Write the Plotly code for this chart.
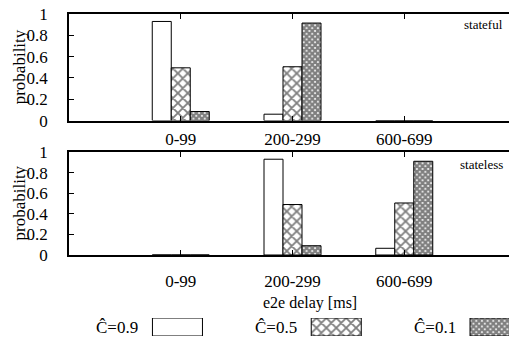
import plotly.graph_objects as go

categories = ["0-99", "200-299", "600-699"]
series_names = ["Ĉ=0.9", "Ĉ=0.5", "Ĉ=0.1"]
stateful_c09 = [0.93, 0.06, 0.0]
stateful_c05 = [0.495, 0.505, 0.0]
stateful_c01 = [0.085, 0.915, 0.0]
stateless_c09 = [0.0, 0.93, 0.065]
stateless_c05 = [0.0, 0.49, 0.505]
stateless_c01 = [0.0, 0.09, 0.91]
yticks = [0, 0.2, 0.4, 0.6, 0.8, 1]

FONT = "Liberation Serif"
patterns = [
    dict(shape="", bgcolor="white"),
    dict(shape="x", size=7, solidity=0.45, fgcolor="black", bgcolor="white", fillmode="overlay"),
    dict(shape="x", size=4, solidity=0.8, fgcolor="black", bgcolor="white", fillmode="overlay"),
]

fig = go.Figure()
panels = [
    ("x", "y", [stateful_c09, stateful_c05, stateful_c01]),
    ("x2", "y2", [stateless_c09, stateless_c05, stateless_c01]),
]
for xa, ya, vals in panels:
    for name, v, pat in zip(series_names, vals, patterns):
        fig.add_trace(go.Bar(
            x=categories, y=v, name=name, xaxis=xa, yaxis=ya,
            marker=dict(color="white", pattern=pat, line=dict(color="black", width=1)),
            showlegend=False,
        ))

# custom legend swatches
for name, pat in zip(series_names, patterns):
    fig.add_trace(go.Bar(
        x=[name], y=[1], xaxis="x3", yaxis="y3", width=0.315,
        marker=dict(color="white", pattern=pat, line=dict(color="black", width=1)),
        showlegend=False,
    ))
    fig.add_annotation(
        xref="x3", yref="y3 domain", x=name, y=0.5, text=name, showarrow=False,
        xanchor="right", yanchor="middle", xshift=-37,
        font=dict(family=FONT, size=17, color="black"),
    )

axis_common = dict(
    showline=True, linecolor="black", linewidth=1.5, mirror="ticks",
    ticks="inside", ticklen=5, tickwidth=1, tickcolor="black",
    showgrid=False, zeroline=False, automargin=False,
    ticklabeloverflow="allow",
    tickfont=dict(family=FONT, size=17, color="black"),
)

# the page body adds an 8px offset, so the figure is drawn 8px smaller/earlier
fig.update_layout(
    width=509, height=333,
    margin=dict(l=61, r=1, t=6, b=5, autoexpand=False),
    paper_bgcolor="white", plot_bgcolor="white",
    font=dict(family=FONT, color="black"),
    barmode="group", bargap=0.49, bargroupgap=0,
    xaxis=dict(axis_common, domain=[0, 1], anchor="y", type="category",
               categoryorder="array", categoryarray=categories, range=[-1, 3],
               ticklabelstandoff=2),
    yaxis=dict(axis_common, domain=[0.669, 1], anchor="x", range=[0, 1],
               tickvals=yticks, ticklabelstandoff=16),
    xaxis2=dict(axis_common, domain=[0, 1], anchor="y2", type="category",
                categoryorder="array", categoryarray=categories, range=[-1, 3],
                ticklabelstandoff=10),
    yaxis2=dict(axis_common, domain=[0.2516, 0.5714], anchor="x2", range=[0, 1],
                tickvals=yticks, ticklabelstandoff=16),
    xaxis3=dict(domain=[0, 1], anchor="y3", type="category",
                categoryorder="array", categoryarray=series_names,
                range=[-0.683, 2.132], visible=False, automargin=False),
    yaxis3=dict(domain=[0, 0.0559], anchor="x3", range=[0, 1], visible=False,
                automargin=False),
    showlegend=False,
)

for yd in ["y domain", "y2 domain"]:
    fig.add_annotation(
        xref="paper", yref=yd, x=0, y=0.5, xshift=-50, text="probability",
        textangle=-90, showarrow=False, xanchor="center", yanchor="middle",
        font=dict(family=FONT, size=17, color="black"),
    )

fig.add_annotation(xref="x domain", yref="y domain", x=0.975, y=0.9, text="stateful",
                   showarrow=False, xanchor="right", yanchor="middle",
                   font=dict(family=FONT, size=13, color="black"))
fig.add_annotation(xref="x2 domain", yref="y2 domain", x=0.975, y=0.88, text="stateless",
                   showarrow=False, xanchor="right", yanchor="middle",
                   font=dict(family=FONT, size=13, color="black"))
fig.add_annotation(xref="paper", yref="paper", x=0.539, y=0.102, text="e2e delay [ms]",
                   showarrow=False, xanchor="center", yanchor="middle",
                   font=dict(family=FONT, size=16, color="black"))

fig.write_html("out.html")
